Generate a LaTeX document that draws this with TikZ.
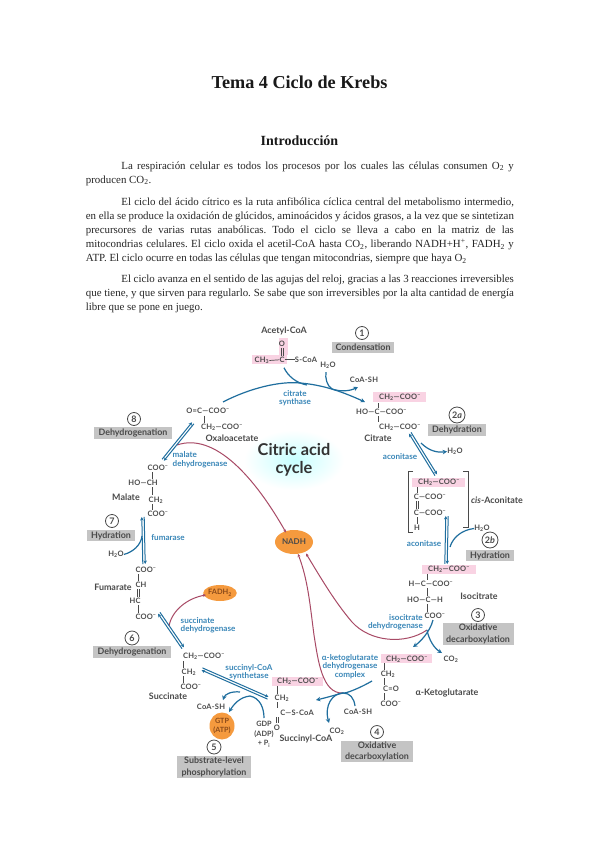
\documentclass[tikz,border=0pt]{standalone}
\usepackage{fontspec}
\setmainfont{Liberation Serif}
\newfontfamily\diagfont{Lato}
\newfontfamily\chemfont[LetterSpace=3]{Lato}
\usetikzlibrary{arrows.meta,calc,shapes.geometric}
\definecolor{inkd}{HTML}{4A4A4A}
\definecolor{bluearrow}{HTML}{1F6E9E}
\definecolor{enz}{HTML}{3A87B8}
\definecolor{pinkbg}{HTML}{F9D3E3}
\definecolor{graybg}{HTML}{C4C4C4}
\definecolor{orng}{HTML}{F59A3E}
\definecolor{redl}{HTML}{A84A66}
\definecolor{brn}{HTML}{8A4A1A}
\tikzset{
  para/.style={anchor=north west,inner sep=0pt,text width=428pt,align=justify,text=black!85,font=\fontsize{10.9}{13.95}\selectfont\frenchspacing},
  chem/.style={inner sep=0pt,anchor=base,text=inkd,font=\chemfont\bfseries\fontsize{7.5}{8}\selectfont},
  cname/.style={chem,font=\diagfont\bfseries\fontsize{8.9}{10}\selectfont},
  enzy/.style={chem,text=enz,align=center,font=\diagfont\bfseries\fontsize{8.1}{8.6}\selectfont},
  steplab/.style={fill=graybg,text=inkd,inner sep=0pt,align=center,font=\diagfont\bfseries\fontsize{8.9}{11.2}\selectfont},
  num/.style={circle,draw=inkd,line width=.8pt,fill=white,inner sep=0pt,text=inkd,font=\diagfont\bfseries\fontsize{9}{10}\selectfont},
  bond/.style={draw=inkd,line width=.7pt},
  arr/.style={draw=bluearrow,line width=1.2pt,-{Stealth[length=4.5pt,width=4.5pt]}},
  plainb/.style={draw=bluearrow,line width=1.2pt},
  thin arr/.style={draw=bluearrow,line width=1pt,-{Stealth[length=3.5pt,width=3.5pt]}},
  nad/.style={draw=redl,line width=1pt,-{Stealth[length=3pt,width=3pt]}},
}
\newcommand{\dblarrow}[2]{%
  \draw[thin arr] ($(#1)!1.2pt!90:(#2)$) -- ($(#2)!1.2pt!-90:(#1)$);
  \draw[thin arr] ($(#2)!1.2pt!90:(#1)$) -- ($(#1)!1.2pt!-90:(#2)$);}
\newcommand{\cm}{\textsubscript}
\newcommand{\cp}{\textsuperscript{−}}
\begin{document}
\begin{tikzpicture}[x=1pt,y=-1pt]
\useasboundingbox (0,0) rectangle (599,848);
\fill[white] (0,0) rectangle (599,848);

% --- page text
\node[inner sep=0pt,anchor=base,font=\bfseries\fontsize{18.2}{20}\selectfont,text=black!90] (title) at (299.5,89) {Tema 4 Ciclo de Krebs};
\node[inner sep=0pt,anchor=base,font=\bfseries\fontsize{14}{16}\selectfont,text=black!90] (intro) at (299.5,146) {Introducción};
\node[para] (p1) at (85.7,161.5) {\hspace*{35.5pt}La respiración celular es todos los procesos por los cuales las células consumen O\cm{2} y\linebreak producen CO\cm{2}.};
\node[para] (p2) at (85.7,198) {\hspace*{35.5pt}El ciclo del ácido cítrico es la ruta anfibólica cíclica central del metabolismo intermedio,\linebreak en ella se produce la oxidación de glúcidos, aminoácidos y ácidos grasos, a la vez que se sintetizan\linebreak precursores de varias rutas anabólicas. Todo el ciclo se lleva a cabo en la matriz de las\linebreak mitocondrias celulares. El ciclo oxida el acetil-CoA hasta CO\cm{2}, liberando NADH+H\textsuperscript{+}, FADH\cm{2} y\linebreak ATP. El ciclo ocurre en todas las células que tengan mitocondrias, siempre que haya O\cm{2}};
\node[para] (p3) at (85.7,274.5) {\hspace*{35.5pt}El ciclo avanza en el sentido de las agujas del reloj, gracias a las 3 reacciones irreversibles\linebreak que tiene, y que sirven para regularlo. Se sabe que son irreversibles por la alta cantidad de energía\linebreak libre que se pone en juego.};

% --- glow and title of the cycle
\shade[inner color=cyan!22,outer color=white,draw=none] (294,460) ellipse [x radius=50pt,y radius=30pt];
\node[inner sep=0pt,align=center,text=black!80,font=\diagfont\bfseries\fontsize{16.3}{17.5}\selectfont] (cycle) at (294,460) {Citric acid\\cycle};

% --- pink highlights
\fill[pinkbg] (279,338) rectangle (288,355);
\fill[pinkbg] (252,355) rectangle (287,364);
\fill[pinkbg] (373,392) rectangle (426,402);
\fill[pinkbg] (412,478) rectangle (465,487);
\fill[pinkbg] (422,565) rectangle (476,574);
\fill[pinkbg] (381,654) rectangle (432,663);
\fill[pinkbg] (272,677) rectangle (323,686);

% --- red NADH / FADH2 curves
\node[ellipse,fill=orng,inner sep=0pt,minimum width=38pt,minimum height=24pt,text=inkd,font=\diagfont\bfseries\fontsize{8}{9}\selectfont] (nadh) at (294,542) {NADH};
\node[ellipse,fill=orng,inner sep=0pt,minimum width=29pt,minimum height=16pt,text=brn,font=\diagfont\bfseries\fontsize{7.4}{8}\selectfont] (fadh) at (220,593) {FADH\cm{2}};
\node[ellipse,fill=orng,inner sep=0pt,minimum width=25pt,minimum height=27pt,align=center,text=brn,font=\diagfont\bfseries\fontsize{7.2}{9}\selectfont] (gtp) at (222,726) {GTP\\(ATP)};

\coordinate (mdhHub) at (177,445);
\coordinate (idhHub) at (427,630);
\coordinate (kgHub) at (343,693);
\coordinate (sdhHub) at (169,626);
\draw[nad] (mdhHub) .. controls (215,432) and (255,478) .. (286,532.5);
\draw[nad] (idhHub) .. controls (405,645) and (370,642) .. (352,622) .. controls (335,602) and (322,580) .. (306,553.5);
\draw[nad] (kgHub) .. controls (322,694) and (318,660) .. (314,635) .. controls (310,605) and (308,580) .. (298,554);
\draw[nad] (sdhHub) .. controls (172,610) and (188,598) .. (206,595);

% --- Acetyl-CoA
\node[cname] (acetyl) at (284,333.5) {Acetyl-CoA};
\node[chem] (acO) at (282,346.5) {O};
\node[chem] (acC) at (282,362.5) {C};
\node[chem] (acM) at (262,362.5) {CH\cm{3}};
\node[chem] (acS) at (306,362.5) {S-CoA};
\draw[bond] ($(acO.south)+(-1,1)$) -- ($(acC.north)+(-1,-1)$);
\draw[bond] ($(acO.south)+(1,1)$) -- ($(acC.north)+(1,-1)$);
\draw[bond] (acM.east) -- (acC.west);
\draw[bond] (acC.east) -- (acS.west);

\node[num,minimum size=13pt] (n1) at (362,333) {1};
\node[steplab,minimum width=62pt,minimum height=11.5pt] (s1) at (363,347.5) {Condensation};
\node[chem] (h2o1) at (328,367.5) {H\cm{2}O};
\node[chem] (coa1) at (364,382.5) {CoA-SH};
\node[enzy,anchor=north] (cs) at (295,390) {citrate\\synthase};

% citrate synthase arrows
\coordinate (csL) at (223,402);
\coordinate (csJ) at (307,385);
\coordinate (csW) at (332,389);
\coordinate (csE) at (365,402);
\draw[arr] (csL) .. controls (250,388) and (280,381) .. (300,383) .. controls (325,385) and (345,393) .. (csE);
\draw[plainb] (acC.south) ++(2,5) .. controls (288,376) and (296,383) .. (csJ);
\draw[plainb] (h2o1.south) ++(-2,3) .. controls (325,378) and (327,386) .. (csW);
\draw[arr] (csW) .. controls (341,392) and (350,391) .. (358,387);

% --- Citrate
\node[chem] (ci1) at (400,399.5) {CH\cm{2}—COO\cp};
\node[chem] (ci2) at (381.5,414.5) {HO—C—COO\cp};
\node[chem] (ci3) at (400,429.5) {CH\cm{2}—COO\cp};
\node[cname] (citrate) at (378,441.5) {Citrate};
\coordinate (ciT) at (378,403); \coordinate (ciM1) at (378,408);
\coordinate (ciM2) at (378,416); \coordinate (ciB) at (378,422);
\draw[bond] (ciT) -- (ciM1) (ciM2) -- (ciB);
\node[num,minimum size=16pt] (n2a) at (457,415) {2\textit{a}};
\node[steplab,minimum width=58pt,minimum height=12pt] (s2a) at (457,430) {Dehydration};
\node[enzy] (aco1) at (400,459) {aconitase};
\node[chem] (h2o2) at (455,453.5) {H\cm{2}O};
\coordinate (a1) at (410,433); \coordinate (a2) at (436,475);
\dblarrow{a1}{a2}
\coordinate (a1h) at (421,443);
\draw[arr] (a1h) .. controls (428,450) and (436,453) .. (h2o2.west);

% --- cis-Aconitate
\draw[inkd,line width=.8pt] (413,471) -- (408,471) -- (408,532) -- (413,532);
\draw[inkd,line width=.8pt] (463,471) -- (468,471) -- (468,527) -- (463,527);
\node[chem] (ca1) at (439,484.5) {CH\cm{2}—COO\cp};
\node[chem] (ca2) at (430,499.5) {C—COO\cp};
\node[chem] (ca3) at (430,515.5) {C—COO\cp};
\node[chem] (ca4) at (417,530.5) {H};
\draw[bond] (417,487) -- (417,493);
\draw[bond] (416,501) -- (416,509) (418,501) -- (418,509);
\draw[bond] (417,517) -- (417,524);
\node[cname] (cisa) at (497,503.5) {\textit{cis}-Aconitate};
\node[chem] (h2o3) at (482,530.5) {H\cm{2}O};
\node[num,minimum size=16pt] (n2b) at (490,540) {2\textit{b}};
\node[enzy] (aco2) at (424,546.5) {aconitase};
\coordinate (b1) at (447,516); \coordinate (b2) at (446,564);
\dblarrow{b1}{b2}
\draw[plainb] (450,547) .. controls (453,537) and (462,530) .. (h2o3.west);
\node[steplab,minimum width=48pt,minimum height=11.5pt] (s2b) at (490,555.5) {Hydration};

% --- Isocitrate
\node[chem] (is1) at (449,571.5) {CH\cm{2}—COO\cp};
\node[chem] (is2) at (431,586.5) {H—C—COO\cp};
\node[chem] (is3) at (425,602.5) {HO—C—H};
\node[chem] (is4) at (435,618.5) {COO\cp};
\draw[bond] (427,574) -- (427,580) (427,588) -- (427,596) (427,604) -- (427,612);
\node[cname] (isoc) at (479,599.5) {Isocitrate};
\node[num,minimum size=13pt] (n3) at (478,615) {3};
\node[steplab,minimum width=71pt,minimum height=22pt] (s3) at (478,634) {Oxidative\\decarboxylation};
\node[enzy,anchor=north east,align=right] (idh) at (423,614) {isocitrate\\dehydrogenase};
\node[chem] (co2a) at (451,661.5) {CO\cm{2}};
\coordinate (idhTop) at (433,620);
\draw[arr] (idhTop) .. controls (430,632) and (420,642) .. (413,647);
\draw[arr] (idhHub) .. controls (429,640) and (434,648) .. (442,653);

% --- alpha-Ketoglutarate
\node[enzy,anchor=north] (kgdh) at (350,654) {α-ketoglutarate\\dehydrogenase\\complex};
\node[chem] (kg1) at (407,661.5) {CH\cm{2}—COO\cp};
\node[chem] (kg2) at (388,676.5) {CH\cm{2}};
\node[chem] (kg3) at (391,691.5) {C=O};
\node[chem] (kg4) at (391,706.5) {COO\cp};
\draw[bond] (384,663) -- (384,670) (384,678) -- (384,685) (384,693) -- (384,700);
\node[cname] (kgname) at (447,695.5) {α-Ketoglutarate};
\coordinate (kgR) at (372,681);
\draw[arr] (kgR) .. controls (360,688) and (345,694) .. (kgHub) .. controls (335,695) and (325,698) .. (316,700);
\node[chem] (coash4) at (358,714.5) {CoA-SH};
\draw[plainb] (355,706) .. controls (354,698) and (350,693) .. (kgHub);
\node[chem] (co2b) at (337,733.5) {CO\cm{2}};
\draw[arr] (kgHub) .. controls (333,693) and (324,705) .. (329,723);
\node[num,minimum size=13pt] (n4) at (377,732) {4};
\node[steplab,minimum width=72pt,minimum height=21.5pt] (s4) at (377,751.5) {Oxidative\\decarboxylation};

% --- Succinyl-CoA
\node[chem] (sc1) at (298,683.5) {CH\cm{2}—COO\cp};
\node[chem] (sc2) at (282,700.5) {CH\cm{2}};
\node[chem] (sc3) at (297,715.5) {C—S-CoA};
\node[chem] (sc4) at (277,730.5) {O};
\node[cname] (succoa) at (306,741.5) {Succinyl-CoA};
\draw[bond] (277,686) -- (277,694) (277,702) -- (277,708);
\draw[bond] (276,717) -- (276,723) (278,717) -- (278,723);

% --- Succinate
\node[chem] (su1) at (204,658.5) {CH\cm{2}—COO\cp};
\node[chem] (su2) at (189,674.5) {CH\cm{2}};
\node[chem] (su3) at (191,689.5) {COO\cp};
\node[cname] (succ) at (168,699.5) {Succinate};
\draw[bond] (183,661) -- (183,668) (183,676) -- (183,683);
\node[enzy,anchor=north] (scs) at (249,664) {succinyl-CoA\\synthetase};
\coordinate (s1a) at (202,669); \coordinate (s1b) at (268,698);
\dblarrow{s1a}{s1b}
\coordinate (scsHub) at (250,696);
\coordinate (scsHubB) at (240,692);
\node[chem] (coash5) at (211,709.5) {CoA-SH};
\draw[arr] (scsHubB) .. controls (232,691) and (225,694) .. (223,700);
\draw[arr] (scsHub) .. controls (240,697) and (234,704) .. (229,712);
\draw[plainb] (264,718) .. controls (264,708) and (260,698) .. (scsHub);
\node[chem,align=center,font=\diagfont\bfseries\fontsize{7.3}{9.6}\selectfont,anchor=north] (gdp) at (264,721) {GDP\\(ADP)\\+ P\cm{i}};
\node[num,minimum size=14pt] (n5) at (214,747) {5};
\node[steplab,minimum width=74pt,minimum height=22pt] (s5) at (214,767) {Substrate-level\\phosphorylation};

% --- Fumarate
\node[chem] (fu1) at (146,572.5) {COO\cp};
\node[cname] (fum) at (113,590.5) {Fumarate};
\node[chem] (fu2) at (141,587.5) {CH};
\node[chem] (fu3) at (135,603.5) {HC};
\node[chem] (fu4) at (146,619.5) {COO\cp};
\draw[bond] (138,574) -- (138,581) (137,589) -- (137,597) (139,589) -- (139,597) (138,605) -- (138,613);
\coordinate (f1) at (159,613); \coordinate (f2) at (183,648);
\dblarrow{f1}{f2}
\node[enzy,anchor=north west,align=left] (sdh) at (180.5,617) {succinate\\dehydrogenase};
\node[num,minimum size=14pt] (n6) at (132,638) {6};
\node[steplab,minimum width=78pt,minimum height=12pt] (s6) at (132,652) {Dehydrogenation};

% --- Malate
\node[chem] (ma1) at (158,470.5) {COO\cp};
\node[chem] (ma2) at (143,485.5) {HO—CH};
\node[cname] (malate) at (126,500.5) {Malate};
\node[chem] (ma3) at (156,502.5) {CH\cm{2}};
\node[chem] (ma4) at (158,516.5) {COO\cp};
\draw[bond] (152,472) -- (152,479) (152,487) -- (152,495) (152,504) -- (152,510);
\node[num,minimum size=13pt] (n7) at (112,521) {7};
\node[steplab,minimum width=48pt,minimum height=11.5pt] (s7) at (111,535.5) {Hydration};
\node[enzy] (fumase) at (168,540) {fumarase};
\node[chem] (h2o4) at (116,556.5) {H\cm{2}O};
\coordinate (m1) at (143,517); \coordinate (m2) at (144,564);
\dblarrow{m1}{m2}
\draw[plainb] (h2o4.east) .. controls (133,552) and (141,545) .. (142,536);

% --- Oxaloacetate
\node[chem] (ox1) at (208,413.5) {O=C—COO\cp};
\node[chem] (ox2) at (222,429.5) {CH\cm{2}—COO\cp};
\node[cname] (oxa) at (232,441.5) {Oxaloacetate};
\draw[bond] (204,415.5) -- (204,423);
\node[num,minimum size=13pt] (n8) at (134,419) {8};
\node[steplab,minimum width=78pt,minimum height=12pt] (s8) at (133,433) {Dehydrogenation};
\coordinate (o1) at (193,423); \coordinate (o2) at (163,460);
\dblarrow{o1}{o2}
\node[enzy,anchor=north west,align=left] (mdh) at (172.5,451.5) {malate\\dehydrogenase};
\end{tikzpicture}
\end{document}
